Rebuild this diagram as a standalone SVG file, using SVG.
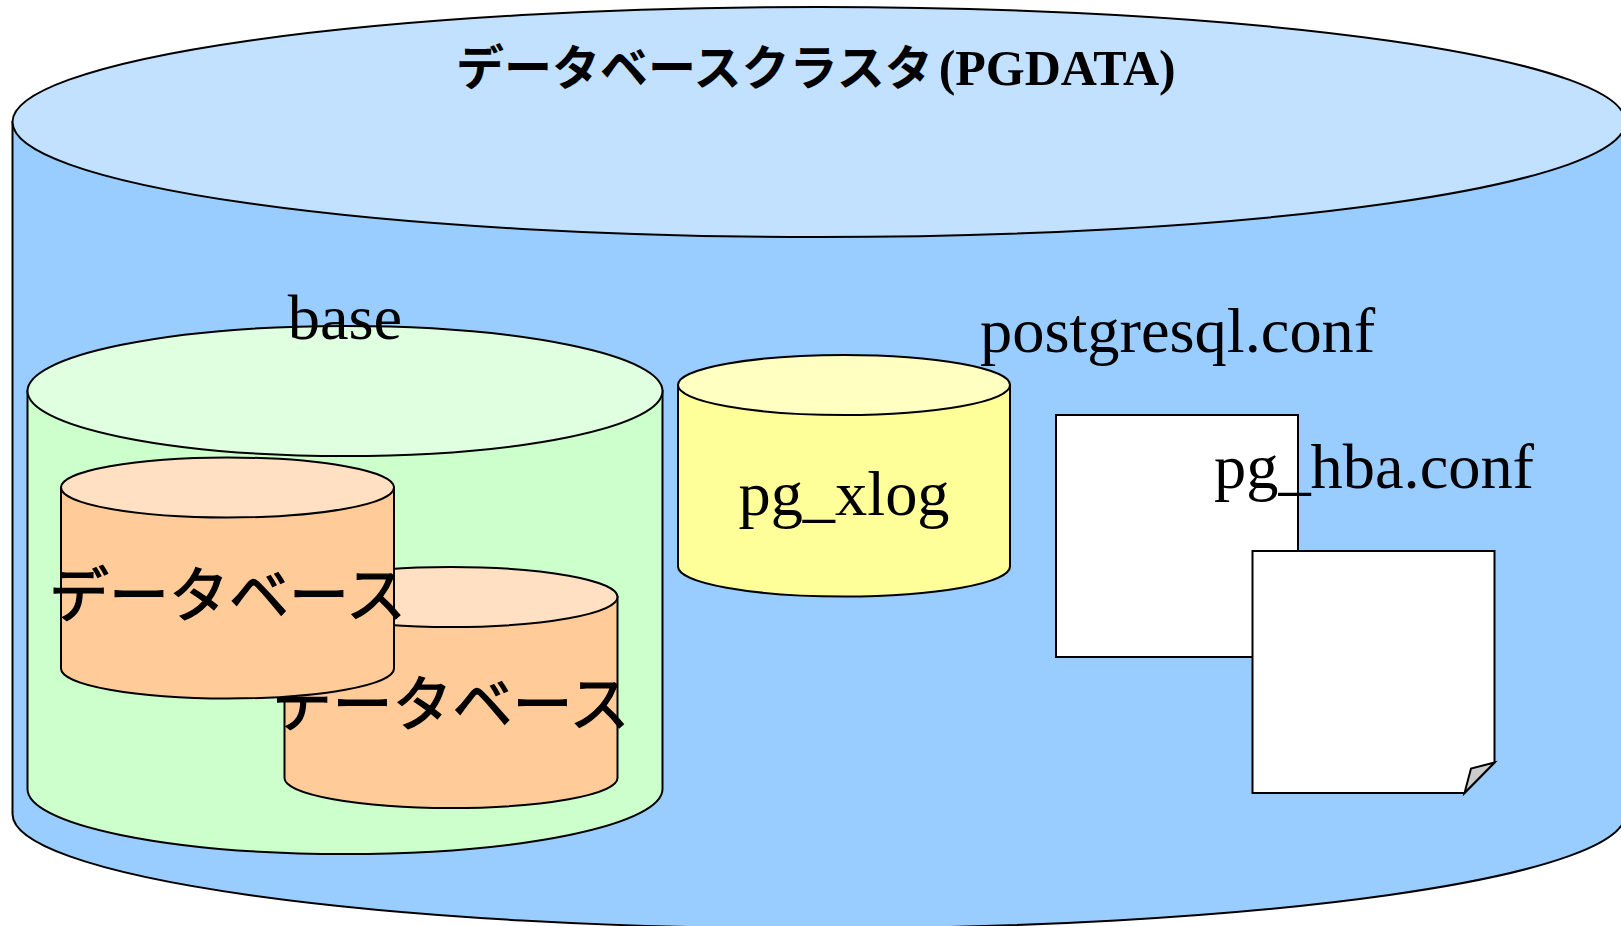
<svg xmlns="http://www.w3.org/2000/svg" width="1621" height="926" viewBox="0 0 1621 926">
<style>
.s{stroke:#000;stroke-width:2}
.lat{font-family:"Liberation Serif","Times New Roman",serif;font-size:64.4px;fill:#000}
.jp{font-family:"Noto Sans CJK JP","Noto Sans CJK SC",sans-serif;font-size:60px;fill:#000;stroke:#000;stroke-width:1.2}
.title{font-family:"Liberation Serif","Noto Sans CJK JP",serif;font-size:50px;font-weight:bold;fill:#000}
.tj{font-family:"Noto Sans CJK JP","Noto Sans CJK SC",sans-serif;font-size:48px;font-weight:bold}
.page{fill:#fff}
</style>
<rect width="1621" height="926" fill="#fff"/>
<g id="cluster">
<path class="s" fill="#99ccff" d="M12.5 122V814A806.5 114.5 0 0 0 1625.5 814V122Z"/>
<ellipse class="s" fill="#c2e0ff" cx="819" cy="122" rx="806.5" ry="115"/>
<text class="title" x="456" y="85"><tspan class="tj">データベースクラスタ</tspan><tspan dx="6">(PGDATA)</tspan></text>
</g>
<g id="base">
<path class="s" fill="#ccffcc" d="M27.5 391V789A317.5 65 0 0 0 662.5 789V391Z"/>
<ellipse class="s" fill="#e0ffe0" cx="345" cy="391" rx="317.5" ry="65"/>
<text class="lat" x="345" y="339" text-anchor="middle">base</text>
</g>
<g id="database2">
<path class="s" fill="#ffcc99" d="M284.5 597V778A166.5 30 0 0 0 617.5 778V597Z"/>
<ellipse class="s" fill="#ffe0c2" cx="451" cy="597" rx="166.5" ry="30"/>
<text class="jp" x="451" y="726" text-anchor="middle">データベース</text>
</g>
<g id="database1">
<path class="s" fill="#ffcc99" d="M61 487.5V668.5A166.5 30 0 0 0 394 668.5V487.5Z"/>
<ellipse class="s" fill="#ffe0c2" cx="227.5" cy="487.5" rx="166.5" ry="30"/>
<text class="jp" x="227.5" y="617" text-anchor="middle">データベース</text>
</g>
<g id="pg_xlog">
<path class="s" fill="#ffff99" d="M678 385V566.5A166 30 0 0 0 1010 566.5V385Z"/>
<ellipse class="s" fill="#ffffc2" cx="844" cy="385" rx="166" ry="30"/>
<text class="lat" x="844" y="515" text-anchor="middle">pg_xlog</text>
</g>
<g id="postgresql_conf">
<rect class="s page" x="1056" y="415" width="242" height="242"/>
<text class="lat" x="980" y="352">postgresql.conf</text>
</g>
<g id="pg_hba_conf">
<text class="lat" x="1214" y="488">pg_hba.conf</text>
<path class="s page" d="M1252.5 551H1494.5V762.5L1464.5 793H1252.5Z"/>
<path class="s" fill="#cccccc" d="M1494.5 762.5L1471 768.5L1464.5 793Z"/>
</g>
</svg>
